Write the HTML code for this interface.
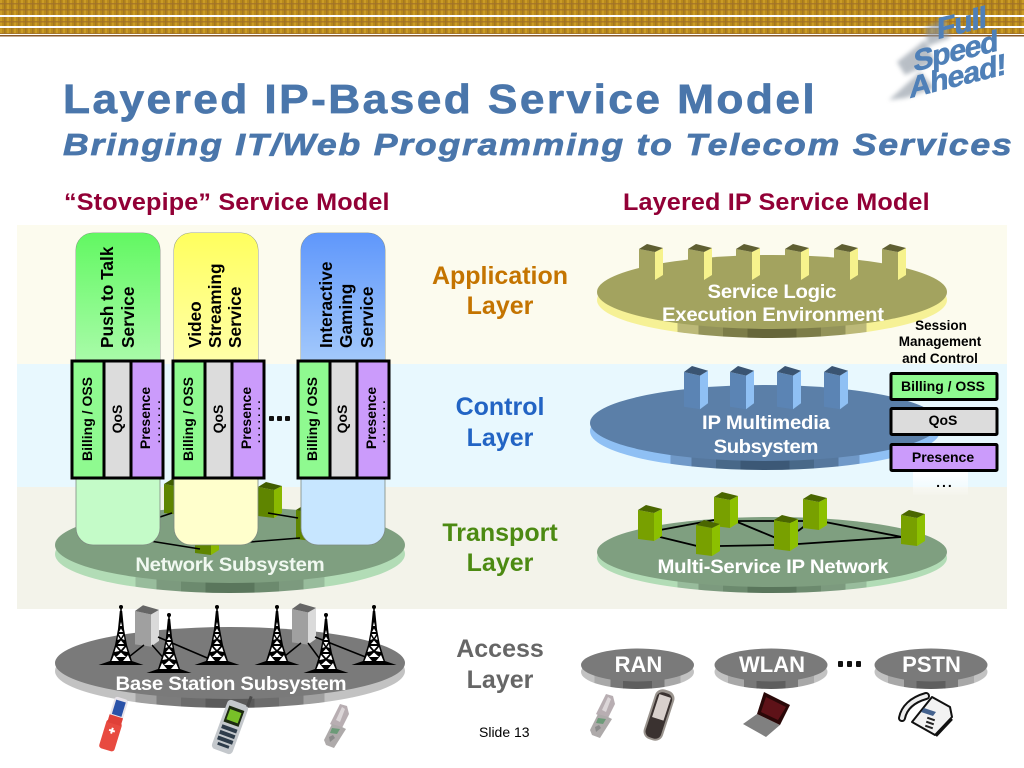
<!DOCTYPE html>
<html><head><meta charset="utf-8"><style>
html,body{margin:0;padding:0;background:#fff}
svg{display:block;font-family:"Liberation Sans",sans-serif}
.b{font-weight:bold}
.w{fill:#fff;font-weight:bold;font-size:19px;text-anchor:middle}
.l{font-weight:bold;font-size:25px;text-anchor:middle}
.h{fill:#920036;font-weight:bold;font-size:24px}
.r{font-weight:bold;font-size:14px;fill:#000;text-anchor:middle}
.d{font-weight:bold;font-size:11px;letter-spacing:3.500px;fill:#000;text-anchor:middle}
.c{font-weight:bold;font-size:17.300px;fill:#000}
.s{font-weight:bold;font-size:14px;fill:#000;text-anchor:middle}
.t{fill:#4a76ab;stroke:#4a76ab;stroke-width:.7px;font-weight:bold}
.f{fill:#4f80b8;stroke:#4f80b8;stroke-width:.6px;font-weight:bold;font-size:30px;text-anchor:middle}
</style></head><body>
<svg width="1024" height="768" viewBox="0 0 1024 768" xmlns="http://www.w3.org/2000/svg">
<defs>
<pattern id="plaid" width="7" height="6" patternUnits="userSpaceOnUse">
<rect width="7" height="6" fill="#b98a1c"/>
<rect x="0" width="2" height="6" fill="#cfa028" opacity=".8"/>
<rect x="4" width="1.500" height="6" fill="#9c7024" opacity=".7"/>
<rect y="3" width="7" height="1.500" fill="#a0702a" opacity=".75"/>
</pattern>
<linearGradient id="bandg" x1="0" x2="0" y1="0" y2="1"><stop offset="0" stop-color="#fff"/><stop offset="1" stop-color="#fff" stop-opacity=".1"/></linearGradient>
<linearGradient id="g1" x1="0" x2="0" y1="0" y2="1"><stop offset="0" stop-color="#62f862"/><stop offset="1" stop-color="#a8fba8"/></linearGradient>
<linearGradient id="g2" x1="0" x2="0" y1="0" y2="1"><stop offset="0" stop-color="#ffff5e"/><stop offset="1" stop-color="#ffffa8"/></linearGradient>
<linearGradient id="g3" x1="0" x2="0" y1="0" y2="1"><stop offset="0" stop-color="#5f97fb"/><stop offset="1" stop-color="#a2c8fb"/></linearGradient>
<linearGradient id="ry">
<stop offset=".23" stop-color="#f6f196"/><stop offset=".23" stop-color="#bcb978"/><stop offset=".29" stop-color="#bcb978"/><stop offset=".29" stop-color="#93935a"/><stop offset=".36" stop-color="#93935a"/><stop offset=".36" stop-color="#7c7c48"/><stop offset=".43" stop-color="#7c7c48"/><stop offset=".43" stop-color="#66663a"/><stop offset=".57" stop-color="#66663a"/><stop offset=".57" stop-color="#7c7c48"/><stop offset=".64" stop-color="#7c7c48"/><stop offset=".64" stop-color="#93935a"/><stop offset=".71" stop-color="#93935a"/><stop offset=".71" stop-color="#bcb978"/><stop offset=".77" stop-color="#bcb978"/><stop offset=".77" stop-color="#f6f196"/>
</linearGradient>
<linearGradient id="rb">
<stop offset=".23" stop-color="#8fc0f4"/><stop offset=".23" stop-color="#7099c8"/><stop offset=".29" stop-color="#7099c8"/><stop offset=".29" stop-color="#56789e"/><stop offset=".36" stop-color="#56789e"/><stop offset=".36" stop-color="#486888"/><stop offset=".43" stop-color="#486888"/><stop offset=".43" stop-color="#3c5876"/><stop offset=".57" stop-color="#3c5876"/><stop offset=".57" stop-color="#486888"/><stop offset=".64" stop-color="#486888"/><stop offset=".64" stop-color="#56789e"/><stop offset=".71" stop-color="#56789e"/><stop offset=".71" stop-color="#7099c8"/><stop offset=".77" stop-color="#7099c8"/><stop offset=".77" stop-color="#8fc0f4"/>
</linearGradient>
<linearGradient id="rg">
<stop offset=".23" stop-color="#b2dcb6"/><stop offset=".23" stop-color="#98bc9c"/><stop offset=".29" stop-color="#98bc9c"/><stop offset=".29" stop-color="#7c9a7e"/><stop offset=".36" stop-color="#7c9a7e"/><stop offset=".36" stop-color="#6c8a6e"/><stop offset=".43" stop-color="#6c8a6e"/><stop offset=".43" stop-color="#5a765c"/><stop offset=".57" stop-color="#5a765c"/><stop offset=".57" stop-color="#6c8a6e"/><stop offset=".64" stop-color="#6c8a6e"/><stop offset=".64" stop-color="#7c9a7e"/><stop offset=".71" stop-color="#7c9a7e"/><stop offset=".71" stop-color="#98bc9c"/><stop offset=".77" stop-color="#98bc9c"/><stop offset=".77" stop-color="#b2dcb6"/>
</linearGradient>
<linearGradient id="rk">
<stop offset=".23" stop-color="#c2c2c2"/><stop offset=".23" stop-color="#a0a0a0"/><stop offset=".29" stop-color="#a0a0a0"/><stop offset=".29" stop-color="#7c7c7c"/><stop offset=".36" stop-color="#7c7c7c"/><stop offset=".36" stop-color="#6c6c6c"/><stop offset=".43" stop-color="#6c6c6c"/><stop offset=".43" stop-color="#5a5a5a"/><stop offset=".57" stop-color="#5a5a5a"/><stop offset=".57" stop-color="#6c6c6c"/><stop offset=".64" stop-color="#6c6c6c"/><stop offset=".64" stop-color="#7c7c7c"/><stop offset=".71" stop-color="#7c7c7c"/><stop offset=".71" stop-color="#a0a0a0"/><stop offset=".77" stop-color="#a0a0a0"/><stop offset=".77" stop-color="#c2c2c2"/>
</linearGradient>
<linearGradient id="rs">
<stop offset=".12" stop-color="#c2c2c2"/><stop offset=".12" stop-color="#a8a8a8"/><stop offset=".26" stop-color="#a8a8a8"/><stop offset=".26" stop-color="#787878"/><stop offset=".37" stop-color="#787878"/><stop offset=".37" stop-color="#5e5e5e"/><stop offset=".63" stop-color="#5e5e5e"/><stop offset=".63" stop-color="#787878"/><stop offset=".74" stop-color="#787878"/><stop offset=".74" stop-color="#a8a8a8"/><stop offset=".88" stop-color="#a8a8a8"/><stop offset=".88" stop-color="#c2c2c2"/>
</linearGradient>
<filter id="bl" x="-30%" y="-30%" width="160%" height="160%"><feGaussianBlur stdDeviation="2"/></filter>
<g id="cube">
<polygon points="0,0 16,3 16,31 0,29" style="fill:var(--f)"/>
<polygon points="16,3 24,-1 24,26 16,31" style="fill:var(--s)"/>
<polygon points="0,0 8,-5 24,-1 16,3" style="fill:var(--t)"/>
</g>
<g id="tower">
<path d="M-22.500,60 L22.500,60 L11,56 L6,40 L3,24 L1.200,6 L-1.200,6 L-3,24 L-6,40 L-11,56 Z" fill="#000"/>
<circle cx="0" cy="2" r="2" fill="#000"/>
<rect x="-.8" y="2" width="1.600" height="8" fill="#000"/>
<g fill="#fff">
<polygon points="-1,21 1,21 0,17"/>
<polygon points="-2,27 2,27 0,23.500"/><polygon points="-2.300,29 2.300,29 0,33"/>
<polygon points="-3.500,35 -1,34 -3,31"/><polygon points="3.500,35 1,34 3,31"/>
<polygon points="-3,39 3,39 0,35.500"/><polygon points="-3.500,41 3.500,41 0,45"/>
<polygon points="-6.500,47 -1.500,46 -5,42"/><polygon points="6.500,47 1.500,46 5,42"/>
<polygon points="-5,52 5,52 0,47.500"/>
<polygon points="-9.500,56 -2,56 -7,50"/><polygon points="9.500,56 2,56 7,50"/>
</g></g>
<g id="flip">
<polygon points="-7,-2 3,-22 10,-20 12,-12 4,4" fill="#b8aeb2"/>
<polygon points="-1,-6 5,-19 8,-17 3,-4" fill="#dcd6d8"/>
<polygon points="-10,8 -5,-2 5,1 9,3 -3,22 -11,19 -13,14" fill="#aeaaaa"/>
<polygon points="-5,2 3,3 0,8 -7,7" fill="#6c9a78"/>
<polygon points="-8,11 -4,9 -2,12 -7,16" fill="#8a8a8a"/>
</g>
</defs>

<!-- header stripes -->
<rect x="0" y="0" width="1024" height="15" fill="url(#plaid)"/>
<rect x="0" y="17" width="1024" height="9" fill="url(#plaid)"/>
<rect x="0" y="28" width="1024" height="6" fill="url(#plaid)"/>
<rect x="0" y="35" width="1024" height="1.500" fill="#8a5a28"/>

<!-- Full Speed Ahead -->
<g fill="#8a94a0" opacity=".6" filter="url(#bl)">
<polygon points="925,28 945,18 950,38 928,46"/>
<polygon points="897,62 925,40 935,62 905,75"/>
<polygon points="889,100 920,72 935,88 905,98"/>
</g>
<text class="f" transform="translate(962,33) skewY(-14)" textLength="50">Full</text>
<text class="f" transform="translate(956,61) skewY(-14)" textLength="85">Speed</text>
<text class="f" transform="translate(958,86) skewY(-14)" textLength="97">Ahead!</text>

<!-- titles -->
<text transform="translate(63,113) scale(1.080,1)" class="t" font-size="41" textLength="696" lengthAdjust="spacing">Layered IP-Based Service Model</text>
<text transform="translate(63,155) scale(1.150,1)" class="t" font-size="31" font-style="italic" textLength="825" lengthAdjust="spacing">Bringing IT/Web Programming to Telecom Services</text>
<text transform="translate(64,210) scale(1.050,1)" class="h" textLength="310" lengthAdjust="spacing">“Stovepipe” Service Model</text>
<text transform="translate(623,210) scale(1.050,1)" class="h" textLength="292" lengthAdjust="spacing">Layered IP Service Model</text>

<!-- bands -->
<rect x="17" y="225" width="990" height="139" fill="#fcfbee"/>
<rect x="17" y="364" width="990" height="123" fill="#e8f8fe"/>
<rect x="17" y="487" width="990" height="122" fill="#f3f3ea"/>

<!-- Network disc -->
<ellipse cx="230" cy="554" rx="175" ry="39" fill="url(#rg)"/>
<ellipse cx="230" cy="545" rx="175" ry="38" fill="#7f9f80"/>
<g style="--f:#5f8500;--s:#8ab800;--t:#405c00">
<use href="#cube" x="164" y="484"/>
<use href="#cube" x="258" y="487"/>
<use href="#cube" x="296" y="510"/>
<use href="#cube" x="195" y="524"/>
</g>
<path d="M160,517 L172,513 M268,513 L298,518 M150,541 L200,549 M250,542 L300,538" stroke="#000" stroke-width="1.500" fill="none"/>

<!-- stovepipe columns -->
<g stroke="#7e8a80" stroke-width=".8">
<rect x="76" y="233" width="84" height="312" rx="17" fill="#c4fbc8"/>
<rect x="174" y="233" width="84" height="312" rx="17" fill="#ffffcc"/>
<rect x="301" y="233" width="84" height="312" rx="17" fill="#c7e6ff"/>
</g>
<path d="M76,360 V250 a17,17 0 0 1 17,-17 h50 a17,17 0 0 1 17,17 V360Z" fill="url(#g1)"/>
<path d="M174,360 V250 a17,17 0 0 1 17,-17 h50 a17,17 0 0 1 17,17 V360Z" fill="url(#g2)"/>
<path d="M301,360 V250 a17,17 0 0 1 17,-17 h50 a17,17 0 0 1 17,17 V360Z" fill="url(#g3)"/>
<text class="c" transform="translate(113,348) rotate(-90)">Push to Talk</text>
<text class="c" transform="translate(134,348) rotate(-90)">Service</text>
<text class="c" transform="translate(201,348) rotate(-90)">Video</text>
<text class="c" transform="translate(221,348) rotate(-90)">Streaming</text>
<text class="c" transform="translate(241,348) rotate(-90)">Service</text>
<text class="c" transform="translate(332,348) rotate(-90)">Interactive</text>
<text class="c" transform="translate(352,348) rotate(-90)">Gaming</text>
<text class="c" transform="translate(373,348) rotate(-90)">Service</text>

<!-- vertical bars -->
<g stroke="#000" stroke-width="3">
<rect x="72" y="361" width="32" height="117" fill="#8ffa90"/><rect x="104" y="361" width="27" height="117" fill="#dcdcdc"/><rect x="131" y="361" width="32" height="117" fill="#cb9bfb"/>
<rect x="173" y="361" width="32" height="117" fill="#8ffa90"/><rect x="205" y="361" width="27" height="117" fill="#dcdcdc"/><rect x="232" y="361" width="32" height="117" fill="#cb9bfb"/>
<rect x="298" y="361" width="32" height="117" fill="#8ffa90"/><rect x="330" y="361" width="27" height="117" fill="#dcdcdc"/><rect x="357" y="361" width="32" height="117" fill="#cb9bfb"/>
</g>
<text class="r" transform="translate(92,419) rotate(-90)">Billing / OSS</text>
<text class="r" transform="translate(122,419) rotate(-90)">QoS</text>
<text class="r" transform="translate(150,418) rotate(-90)">Presence</text>
<text class="d" transform="translate(160,420) rotate(-90)">.......</text>
<text class="r" transform="translate(193,419) rotate(-90)">Billing / OSS</text>
<text class="r" transform="translate(223,419) rotate(-90)">QoS</text>
<text class="r" transform="translate(251,418) rotate(-90)">Presence</text>
<text class="d" transform="translate(260,420) rotate(-90)">.......</text>
<text class="r" transform="translate(317,419) rotate(-90)">Billing / OSS</text>
<text class="r" transform="translate(347,419) rotate(-90)">QoS</text>
<text class="r" transform="translate(376,418) rotate(-90)">Presence</text>
<text class="d" transform="translate(385,420) rotate(-90)">.......</text>
<g fill="#111"><rect x="269" y="416" width="5" height="5" rx="1"/><rect x="277" y="416" width="5" height="5" rx="1"/><rect x="285" y="416" width="5" height="5" rx="1"/></g>
<text transform="translate(230,571) scale(1.070,1)" class="w" style="fill:#f0f8f0" textLength="177" lengthAdjust="spacing">Network Subsystem</text>

<!-- Base Station disc -->
<ellipse cx="230" cy="671" rx="175" ry="37" fill="url(#rk)"/>
<ellipse cx="230" cy="663" rx="175" ry="36" fill="#7a7a7a"/>
<g style="--f:#a0a0a0;--s:#dadada;--t:#666">
<use href="#cube" transform="translate(135,611) scale(1,1.150)"/>
<use href="#cube" transform="translate(292,609) scale(1,1.150)"/>
</g>
<path d="M144,645 L125,660 M152,645 L167,662 M158,637 L212,660 M301,643 L280,660 M308,643 L322,662 M315,637 L368,658" stroke="#000" stroke-width="1.500" fill="none"/>
<use href="#tower" x="121" y="605"/>
<use href="#tower" x="169" y="613"/>
<use href="#tower" x="217" y="605"/>
<use href="#tower" x="277" y="605"/>
<use href="#tower" x="326" y="613"/>
<use href="#tower" x="374" y="605"/>
<text transform="translate(231,690) scale(1.070,1)" class="w" textLength="216" lengthAdjust="spacing">Base Station Subsystem</text>

<!-- phones left -->
<g transform="translate(114,724) rotate(17)">
<rect x="-8" y="-3" width="16" height="30" rx="3" fill="#e84a40"/>
<rect x="-7" y="-27" width="14" height="25" rx="3" fill="#e8e4ea"/>
<rect x="-5" y="-24" width="10" height="15" fill="#2a52a8"/>
<rect x="-7" y="-8" width="14" height="8" fill="#e04038"/>
<path d="M-3,7 h6 M0,4 v6" stroke="#fff" stroke-width="2"/>
</g>
<g transform="translate(230,727) rotate(20)">
<rect x="-11" y="-26" width="22" height="52" rx="4" fill="#c4c8cc"/>
<rect x="8" y="-36" width="3" height="11" fill="#4a4a4a"/>
<rect x="-8" y="-20" width="16" height="17" fill="#1c2a10"/>
<rect x="-6" y="-17" width="12" height="11" fill="#78c028"/>
<g fill="#2e3c4a"><rect x="-8" y="0" width="16" height="4"/><rect x="-8" y="6" width="16" height="4"/><rect x="-8" y="12" width="16" height="4"/><rect x="-6" y="18" width="12" height="3"/></g>
</g>
<use href="#flip" transform="translate(337,726)"/>

<!-- Service Logic disc -->
<ellipse cx="772" cy="300" rx="175" ry="38" fill="url(#ry)"/>
<ellipse cx="772" cy="292" rx="175" ry="37" fill="#a3a35f"/>
<g style="--f:#a3a35f;--s:#f6f28c;--t:#5f5f32">
<use href="#cube" x="639" y="249"/><use href="#cube" x="688" y="249"/><use href="#cube" x="736" y="249"/><use href="#cube" x="785" y="249"/><use href="#cube" x="834" y="249"/><use href="#cube" x="882" y="249"/>
</g>
<text transform="translate(772,298) scale(1.070,1)" class="w" textLength="120.500" lengthAdjust="spacing">Service Logic</text>
<text transform="translate(773,321) scale(1.070,1)" class="w" textLength="207.500" lengthAdjust="spacing">Execution Environment</text>

<!-- IMS disc -->
<ellipse cx="765" cy="431" rx="175" ry="39" fill="url(#rb)"/>
<ellipse cx="765" cy="423" rx="175" ry="38" fill="#5b7fa8"/>
<g style="--f:#5b84b4;--s:#8fc0f4;--t:#3a5472">
<use href="#cube" transform="translate(684,372) scale(1,1.200)"/>
<use href="#cube" transform="translate(730,372) scale(1,1.200)"/>
<use href="#cube" transform="translate(777,372) scale(1,1.200)"/>
<use href="#cube" transform="translate(824,372) scale(1,1.200)"/>
</g>
<text transform="translate(766,429) scale(1.070,1)" class="w" textLength="119.600" lengthAdjust="spacing">IP Multimedia</text>
<text transform="translate(766,453) scale(1.070,1)" class="w" textLength="98" lengthAdjust="spacing">Subsystem</text>

<!-- Session mgmt -->
<text x="941" y="330" class="s" style="font-size:13.500px">Session</text>
<text x="940" y="346" class="s" style="font-size:13.500px">Management</text>
<text x="940" y="363" class="s" style="font-size:13.500px">and Control</text>
<g stroke="#000" stroke-width="3">
<rect x="891" y="373.500" width="106" height="26" rx="1" fill="#8ffa90"/>
<rect x="891" y="408.500" width="106" height="26" rx="1" fill="#dcdcdc"/>
<rect x="891" y="444.500" width="106" height="26" rx="1" fill="#cb9bfb"/>
</g>
<text x="943" y="391" class="s">Billing / OSS</text>
<text x="943" y="425" class="s">QoS</text>
<text x="943" y="462" class="s">Presence</text>
<rect x="913" y="472" width="55" height="23" fill="url(#bandg)"/>
<text x="945" y="487" class="s" style="letter-spacing:2px">...</text>

<!-- Multi-service disc -->
<ellipse cx="772" cy="558" rx="175" ry="35" fill="url(#rg)"/>
<ellipse cx="772" cy="552" rx="175" ry="35" fill="#7f9f80"/>
<path d="M660,530 L714,520 M660,537 L697,546 M735,521 L776,538 M735,521 L804,521 M720,546 L775,545 M798,544 L902,537 M798,531 L806,525 M825,522 L902,537" stroke="#000" stroke-width="1.800" fill="none"/>
<g style="--f:#78a000;--s:#8cc000;--t:#4a6600">
<use href="#cube" x="638" y="510"/><use href="#cube" x="714" y="497"/><use href="#cube" x="696" y="525"/><use href="#cube" x="774" y="520"/><use href="#cube" x="803" y="499"/><use href="#cube" x="901" y="515"/>
</g>
<text transform="translate(773,573) scale(1.070,1)" class="w" textLength="216" lengthAdjust="spacing">Multi-Service IP Network</text>

<!-- layer labels -->
<text x="500" y="284" class="l" fill="#c47400">Application</text>
<text x="500" y="314" class="l" fill="#c47400">Layer</text>
<text x="500" y="415" class="l" fill="#2264c4">Control</text>
<text x="500" y="446" class="l" fill="#2264c4">Layer</text>
<text x="500" y="541" class="l" fill="#4c8a12">Transport</text>
<text x="500" y="571" class="l" fill="#4c8a12">Layer</text>
<text x="500" y="657" class="l" fill="#666">Access</text>
<text x="500" y="688" class="l" fill="#666">Layer</text>

<!-- access discs -->
<ellipse cx="637.500" cy="672" rx="56.500" ry="17" fill="url(#rs)"/>
<ellipse cx="637.500" cy="665" rx="56.500" ry="16.500" fill="#7a7a7a"/>
<ellipse cx="771" cy="672" rx="56.500" ry="17" fill="url(#rs)"/>
<ellipse cx="771" cy="665" rx="56.500" ry="16.500" fill="#7a7a7a"/>
<ellipse cx="931" cy="672" rx="56.500" ry="17" fill="url(#rs)"/>
<ellipse cx="931" cy="665" rx="56.500" ry="16.500" fill="#7a7a7a"/>
<text x="638.500" y="672" class="w" style="font-size:22px">RAN</text>
<text x="772" y="672" class="w" style="font-size:22px">WLAN</text>
<text x="931.500" y="672" class="w" style="font-size:22px">PSTN</text>
<g fill="#111"><rect x="838" y="661" width="5" height="6" rx="1"/><rect x="847" y="661" width="5" height="6" rx="1"/><rect x="856" y="661" width="5" height="6" rx="1"/></g>

<!-- right devices -->
<use href="#flip" transform="translate(603,716)"/>
<g transform="translate(659,715) rotate(18)">
<rect x="-10" y="-26" width="20" height="52" rx="8" fill="#9a948e"/>
<rect x="-8" y="-23" width="16" height="47" rx="6" fill="#3a3230"/>
<rect x="-6" y="-20" width="12" height="24" fill="#d8d0cc"/>
</g>
<polygon points="757,714 743,724 766,737 780,725" fill="#808080"/>
<polygon points="764,692 790,705 780,725 757,714" fill="#2a0808"/>
<polygon points="766,697 786,707 778,720 761,712" fill="#5e1218"/>
<polygon points="912,722 932,697 950,707 952,717 935,735" fill="#f2f2f2" stroke="#111" stroke-width="2" stroke-linejoin="round"/>
<path d="M926,696 C912,700 904,708 902,718" stroke="#111" stroke-width="8" fill="none" stroke-linecap="round"/>
<path d="M926,696 C912,700 904,708 902,718" stroke="#eee" stroke-width="4" fill="none" stroke-linecap="round"/>
<path d="M936,736 L952,719" stroke="#111" stroke-width="2.500"/>
<polygon points="924,708 936,712 933,716 921,712" fill="#44628e"/>
<g fill="#222"><rect x="927" y="718" width="8" height="2" transform="rotate(20 931 719)"/><rect x="926" y="722" width="8" height="2" transform="rotate(20 930 723)"/><rect x="925" y="726" width="8" height="2" transform="rotate(20 929 727)"/></g>

<text x="479" y="737" font-size="14" fill="#000">Slide 13</text>
</svg>
</body></html>
